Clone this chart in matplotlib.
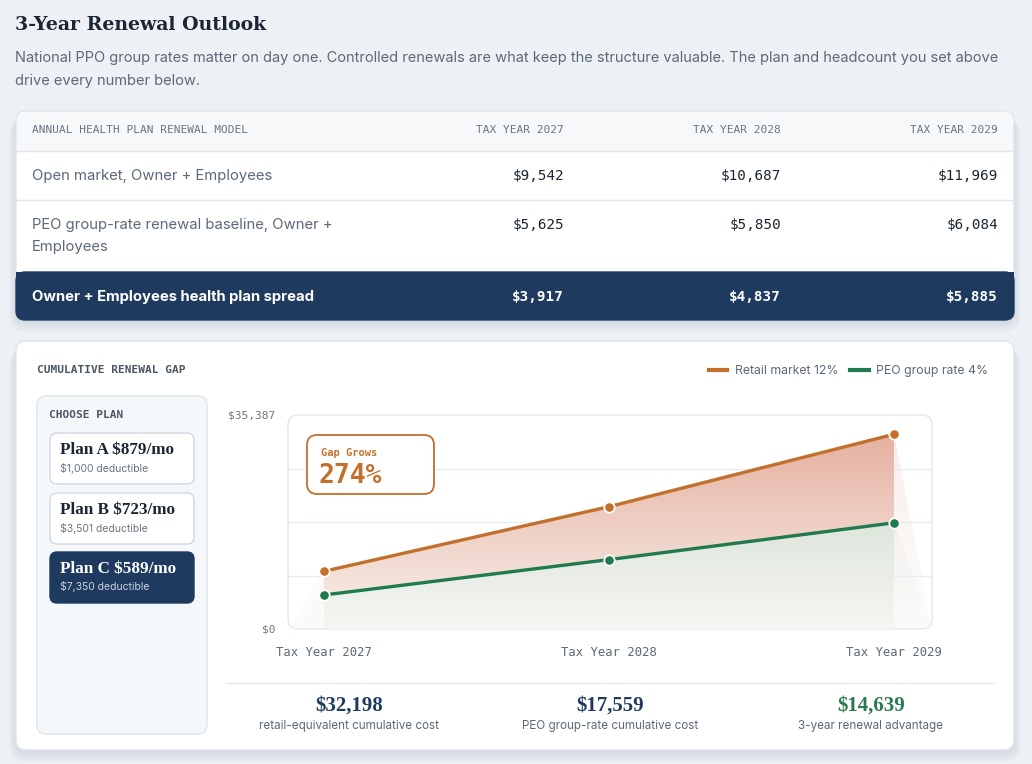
import numpy as np
import matplotlib.pyplot as plt
from matplotlib.patches import FancyBboxPatch, Rectangle

W, H = 1032, 764
BG = '#edf1f5'
NAVY = '#1f3a5f'
ORANGE = '#c2702b'
GREEN = '#1f7a4d'
INK = '#1b2533'
MUTED = '#5d6878'
SOFT = '#6b7583'
LINE = '#dfe5eb'

SANS = ['Inter', 'DejaVu Sans']
MONO = 'DejaVu Sans Mono'
SERIF = 'DejaVu Serif'

# data
years = ['Tax Year 2027', 'Tax Year 2028', 'Tax Year 2029']
col_heads = ['TAX YEAR 2027', 'TAX YEAR 2028', 'TAX YEAR 2029']
row_labels = ['Open market, Owner + Employees',
              'PEO group-rate renewal baseline, Owner +\nEmployees',
              'Owner + Employees health plan spread']
open_market = [9542, 10687, 11969]
peo_baseline = [5625, 5850, 6084]
spread = [3917, 4837, 5885]
retail_cum = [9542, 20229, 32198]
peo_cum = [5625, 11475, 17559]
y_top = 35387
plan_names = ['Plan A $879/mo', 'Plan B $723/mo', 'Plan C $589/mo']
plan_deduct = ['$1,000 deductible', '$3,501 deductible', '$7,350 deductible']
selected = 2
stat_values = ['$32,198', '$17,559', '$14,639']
stat_labels = ['retail-equivalent cumulative cost', 'PEO group-rate cumulative cost',
               '3-year renewal advantage']
gap_pct = '274%'

fig = plt.figure(figsize=(W / 100, H / 100), dpi=100)
fig.patch.set_facecolor(BG)
bg = fig.add_axes([0, 0, 1, 1])
bg.set_xlim(0, W)
bg.set_ylim(H, 0)
bg.axis('off')


def card(a, x0, y0, x1, y1, r=8, fc='white', ec=LINE, lw=1, z=1):
    p = FancyBboxPatch((x0, y0), x1 - x0, y1 - y0,
                       boxstyle=f'round,pad=0,rounding_size={r}',
                       fc=fc, ec=ec, lw=lw, zorder=z)
    a.add_patch(p)
    return p


def shadow(a, x0, y0, x1, y1, r=10):
    for i in range(8):
        card(a, x0 - i, y0 + 2 + i, x1 + i, y1 + 2 + i * 1.5, r=r + i,
             fc=(0.12, 0.18, 0.28, 0.012), ec='none', z=0.5)


# header text
bg.text(15, 25, '3-Year Renewal Outlook', family=SERIF, weight='bold', size=13.6,
        color=INK, va='center')
bg.text(15, 58, 'National PPO group rates matter on day one. Controlled renewals are what keep the '
        'structure valuable. The plan and headcount you set above', family=SANS, size=10.55,
        color=MUTED, va='center')
bg.text(15, 81, 'drive every number below.', family=SANS, size=10.55, color=MUTED, va='center')

# table card
shadow(bg, 16, 111, 1014, 320)
card(bg, 16, 111, 1014, 320, r=9)
card(bg, 17, 112, 1013, 151, r=8, fc='#f6f8fa', ec='none', z=1.1)
bg.add_patch(Rectangle((17, 135), 996, 16, fc='#f6f8fa', ec='none', zorder=1.1))
for yy in (151, 200):
    bg.plot([16, 1014], [yy, yy], color=LINE, lw=1, zorder=1.2)
card(bg, 16, 272, 1014, 320, r=9, fc=NAVY, ec=NAVY, z=1.3)
bg.add_patch(Rectangle((16, 272), 998, 20, fc=NAVY, ec='none', zorder=1.3))

col_x = [564, 781, 998]
bg.text(32, 130, 'ANNUAL HEALTH PLAN RENEWAL MODEL', family=MONO, size=8, color=SOFT,
        va='center', zorder=2)
for cx, h in zip(col_x, col_heads):
    bg.text(cx, 130, h, family=MONO, size=8, color=SOFT, va='center', ha='right', zorder=2)

bg.text(32, 176, row_labels[0], family=SANS, size=10.7, color=MUTED, va='center', zorder=2)
l1, l2 = row_labels[1].split('\n')
bg.text(32, 225, l1, family=SANS, size=10.7, color=MUTED, va='center', zorder=2)
bg.text(32, 247, l2, family=SANS, size=10.7, color=MUTED, va='center', zorder=2)
bg.text(32, 297, row_labels[2], family=SANS, size=10.7, weight='bold', color='white',
        va='center', zorder=2)
for cx, a, b, c in zip(col_x, open_market, peo_baseline, spread):
    bg.text(cx, 176, f'${a:,}', family=MONO, size=10.3, color=INK, va='center', ha='right', zorder=2)
    bg.text(cx, 225, f'${b:,}', family=MONO, size=10.3, color=INK, va='center', ha='right', zorder=2)
    bg.text(cx, 297, f'${c:,}', family=MONO, size=10.3, weight='bold', color='white',
            va='center', ha='right', zorder=2)

# chart card
shadow(bg, 16, 341, 1014, 750)
card(bg, 16, 341, 1014, 750, r=10)
bg.text(37, 370, 'CUMULATIVE RENEWAL GAP', family=MONO, weight='bold', size=8, color='#4b5563',
        va='center', zorder=2)

# plan picker
card(bg, 37, 396, 207, 734, r=9, fc='#f5f8fb', ec=LINE, z=1.2)
bg.text(49, 415, 'CHOOSE PLAN', family=MONO, weight='bold', size=8, color='#4b5563',
        va='center', zorder=2)
for i, (nm, dd) in enumerate(zip(plan_names, plan_deduct)):
    y0 = [433, 493, 552][i]
    on = i == selected
    card(bg, 50, y0, 194, y0 + 51, r=7, fc=NAVY if on else 'white',
         ec=NAVY if on else '#cfd8e3', z=1.5)
    bg.text(60, y0 + 17, nm, family='Liberation Serif', weight='bold', size=12.3,
            color='white' if on else INK, va='center', zorder=2)
    bg.text(60, y0 + 35, dd, family=SANS, size=7.5,
            color='#c9d3df' if on else SOFT, va='center', zorder=2)

# plot frame, divider, stats
card(bg, 288, 415, 932, 629, r=10, fc='white', ec='#e1e6ec', z=1.2)
bg.plot([227, 994], [683, 683], color='#e3e8ed', lw=1, zorder=2)
for cx, v, lb, col in zip([349, 610, 871], stat_values, stat_labels, [NAVY, NAVY, '#2a7a50']):
    bg.text(cx, 706, v, family='Liberation Serif', weight='bold', size=15, color=col,
            ha='center', va='center', zorder=2)
    bg.text(cx, 726, lb, family=SANS, size=8.4, color=MUTED, ha='center', va='center', zorder=2)

# chart
ax = fig.add_axes([288 / W, 1 - 629 / H, 644 / W, 214 / H])
ax.patch.set_alpha(0)
x = np.arange(len(years))
step = (894 - 324) / 2
x_lo = -(324 - 288) / step
x_hi = 2 + (932 - 894) / step
xf = [x_lo] + list(x) + [x_hi]


def grad_fill(xs, ys, c_top, c_bot, a_top, a_bot, z):
    poly = ax.fill_between(xs, 0, ys, fc='none', ec='none', zorder=z)
    t = np.linspace(0, 1, 256)[:, None]
    rgba = np.zeros((256, 1, 4))
    for k in range(3):
        rgba[:, :, k] = c_bot[k] + (c_top[k] - c_bot[k]) * t
    rgba[:, :, 3] = a_bot + (a_top - a_bot) * t
    im = ax.imshow(rgba, extent=[x_lo, x_hi, 0, max(ys)], origin='lower', aspect='auto',
                   zorder=z, interpolation='bilinear')
    im.set_clip_path(poly.get_paths()[0], transform=ax.transData)


r_top, r_bot = (0.90, 0.69, 0.63), (0.975, 0.95, 0.93)
p_top, p_bot = (0.87, 0.90, 0.86), (0.965, 0.965, 0.95)
grad_fill(xf, [0] + retail_cum + [0], r_top, r_bot, 0.25, 0.15, 1)
grad_fill(xf, [0] + peo_cum + [0], p_top, p_bot, 0.3, 0.2, 1.1)
grad_fill(x, retail_cum, r_top, r_bot, 1, 1, 2)
grad_fill(x, peo_cum, p_top, p_bot, 1, 1, 2.1)

ax.plot(x, retail_cum, color=ORANGE, lw=2.4, marker='o', ms=7.5, mfc=ORANGE, mec='white',
        mew=1.3, label='Retail market 12%', zorder=5)
ax.plot(x, peo_cum, color=GREEN, lw=2.4, marker='o', ms=7.5, mfc=GREEN, mec='white',
        mew=1.3, label='PEO group rate 4%', zorder=5)

ax.set_xlim(x_lo, x_hi)
ax.set_ylim(0, y_top)
for s in ax.spines.values():
    s.set_visible(False)
ax.set_yticks([y_top * q for q in (0.25, 0.5, 0.75)], minor=True)
ax.grid(which='minor', axis='y', color='#e8ecf0', lw=1, zorder=0)
ax.set_xticks(x, years, family=MONO)
ax.set_yticks([0, y_top], ['$0', f'${y_top:,}'], family=MONO)
ax.tick_params(axis='x', length=0, pad=12, labelsize=8.8, labelcolor=MUTED)
ax.tick_params(axis='y', which='both', length=0, pad=9, labelsize=8, labelcolor=SOFT)

leg = ax.legend(loc='center right', bbox_to_anchor=(994 / W, 1 - 371 / H),
                bbox_transform=fig.transFigure, ncol=2, frameon=False, handlelength=1.5,
                columnspacing=1.0, handletextpad=0.6, borderpad=0, labelcolor=MUTED,
                prop={'family': SANS, 'size': 8.8})
for h in leg.legend_handles:
    h.set_marker('')
    h.set_linewidth(3)

# annotation overlay
fg = fig.add_axes([0, 0, 1, 1])
fg.set_xlim(0, W)
fg.set_ylim(H, 0)
fg.axis('off')
fg.patch.set_alpha(0)
card(fg, 307, 435, 434, 494, r=10, fc='white', ec=ORANGE, lw=1.3)
fg.text(321, 453, 'Gap Grows', family=MONO, weight='bold', size=7.5, color=ORANGE, va='center')
fg.text(319, 476, gap_pct, family=MONO, weight='bold', size=19, color=ORANGE, va='center')

fig.savefig('out.png', dpi=100, facecolor=BG)
